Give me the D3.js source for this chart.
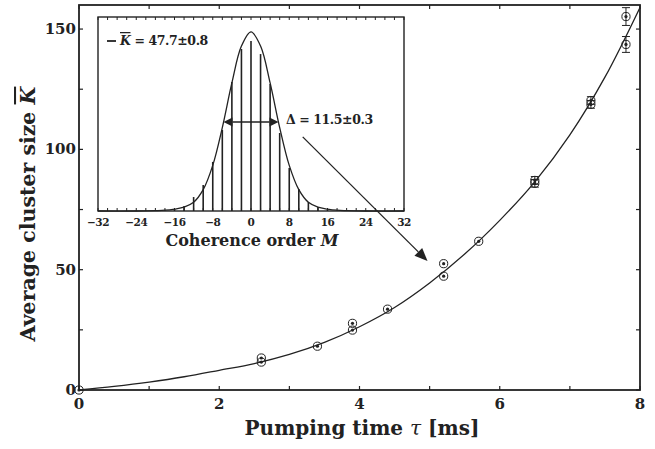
<!DOCTYPE html>
<html>
<head>
<meta charset="utf-8">
<script src="https://cdn.jsdelivr.net/npm/d3@7"></script>
<style>
  html, body { margin: 0; padding: 0; background: #fff; }
  svg { display: block; }
  text { font-family: "DejaVu Serif", "Liberation Serif", serif; font-weight: bold; fill: #222; }
</style>
</head>
<body>
<svg id="chart" width="655" height="449"></svg>
<script>
// Measured cluster sizes: pumping time (ms), average cluster size, error
const tauValues = [0, 2.6, 2.6, 3.4, 3.9, 3.9, 4.4, 5.2, 5.2, 5.7, 6.5, 6.5, 7.3, 7.3, 7.8, 7.8];
const kValues   = [0, 13.3, 11.6, 18.2, 27.7, 24.9, 33.6, 52.5, 47.3, 61.8, 87.1, 85.9, 120.3, 118.7, 155.2, 143.6];
const kErrors   = [0, 0, 0, 0, 0, 0, 0, 0, 0, 0, 1.6, 1.6, 1.6, 1.6, 3.7, 3.3];

// Fitted growth curve, sampled along the drawn line
const fitTau = [0, 0.5, 1, 1.5, 2, 2.5, 3, 3.5, 4, 4.5, 5, 5.5, 6, 6.5, 7, 7.5, 8];
const fitK   = [0, 1.5, 3.3, 5.5, 8.2, 11.0, 14.8, 19.8, 26.3, 34.3, 44.5, 56.5, 70.5, 86.5, 106, 130, 159];

// Inset: multiple-quantum coherence spectrum (normalised intensity)
const coherenceOrders = [-16, -14, -12, -10, -8, -6, -4, -2, 0, 2, 4, 6, 8, 10, 12, 14, 16];
const intensities     = [0.01, 0.026, 0.072, 0.134, 0.253, 0.418, 0.665, 0.835, 0.876, 0.809, 0.655, 0.402, 0.222, 0.113, 0.046, 0.02, 0.006];

// Gaussian envelope, sampled along the drawn line
const envM = [-32, -24, -20, -18, -16, -14, -12, -10, -8, -6, -4, -2, 0, 2, 4, 6, 8, 10, 12, 14, 16, 18, 20, 24, 32];
const envI = [0, 0, 0.002, 0.004, 0.01, 0.02, 0.045, 0.11, 0.235, 0.43, 0.66, 0.85, 0.923, 0.85, 0.66, 0.43, 0.235, 0.11, 0.045, 0.02, 0.01, 0.004, 0.002, 0, 0];

const kBarLabel = "47.7±0.8";
const deltaValue = 11.5;
const deltaLabel = "11.5±0.3";

const xTickValues = [0, 2, 4, 6, 8];
const yTickValues = [0, 50, 100, 150];
const insetTickValues = [-32, -24, -16, -8, 0, 8, 16, 24, 32];

const ink = "#222";
const svg = d3.select("#chart");

// ---------- main plot ----------
const x = d3.scaleLinear().domain([0, 8]).range([79, 640]);
const y = d3.scaleLinear().domain([0, 160]).range([390, 5]);

const tickLen = 4;
const g = svg.append("g");

// inward ticks on all four sides
const xTicksAll = d3.range(0, 8.01, 1);
const yTicksAll = d3.range(0, 160.01, 25);
g.selectAll(".xtb").data(xTicksAll).join("line")
  .attr("x1", d => x(d)).attr("x2", d => x(d))
  .attr("y1", y(0)).attr("y2", y(0) - tickLen)
  .attr("stroke", ink).attr("stroke-width", 1.2);
g.selectAll(".xtt").data(xTicksAll).join("line")
  .attr("x1", d => x(d)).attr("x2", d => x(d))
  .attr("y1", y(160)).attr("y2", y(160) + tickLen)
  .attr("stroke", ink).attr("stroke-width", 1.2);
g.selectAll(".ytl").data(yTicksAll).join("line")
  .attr("x1", x(0)).attr("x2", x(0) + tickLen)
  .attr("y1", d => y(d)).attr("y2", d => y(d))
  .attr("stroke", ink).attr("stroke-width", 1.2);
g.selectAll(".ytr").data(yTicksAll).join("line")
  .attr("x1", x(8)).attr("x2", x(8) - tickLen)
  .attr("y1", d => y(d)).attr("y2", d => y(d))
  .attr("stroke", ink).attr("stroke-width", 1.2);

// frame
g.append("rect")
  .attr("x", x(0)).attr("y", y(160))
  .attr("width", x(8) - x(0)).attr("height", y(0) - y(160))
  .attr("fill", "none").attr("stroke", ink).attr("stroke-width", 1.8);

// tick labels
g.selectAll(".xl").data(xTickValues).join("text")
  .attr("x", d => x(d)).attr("y", y(0) + 19)
  .attr("text-anchor", "middle").attr("font-size", 15)
  .text(d => d);
g.selectAll(".yl").data(yTickValues).join("text")
  .attr("x", x(0) - 3).attr("y", d => y(d) + 5)
  .attr("text-anchor", "end").attr("font-size", 15)
  .text(d => d);

// axis titles
const xt = g.append("text")
  .attr("x", 362).attr("y", 435)
  .attr("text-anchor", "middle").attr("font-size", 20);
xt.append("tspan").text("Pumping time ");
xt.append("tspan").attr("font-style", "italic").attr("font-weight", "normal").text("τ");
xt.append("tspan").text(" [ms]");

const yt = g.append("text")
  .attr("transform", "translate(35,214) rotate(-90)")
  .attr("text-anchor", "middle").attr("font-size", 20.5);
yt.append("tspan").text("Average cluster size ");
yt.append("tspan").attr("font-style", "italic").attr("text-decoration", "overline").text("K");

// fit curve
const fitLine = d3.line()
  .x((d, i) => x(fitTau[i])).y(d => y(d))
  .curve(d3.curveCatmullRom.alpha(0.5));
g.append("path").attr("d", fitLine(fitK))
  .attr("fill", "none").attr("stroke", ink).attr("stroke-width", 1.3);

// data points with error bars
const pts = tauValues.map((t, i) => ({ t, k: kValues[i], e: kErrors[i] }));
const eb = g.selectAll(".eb").data(pts.filter(d => d.e > 0)).join("g");
eb.append("line")
  .attr("x1", d => x(d.t)).attr("x2", d => x(d.t))
  .attr("y1", d => y(d.k - d.e)).attr("y2", d => y(d.k + d.e))
  .attr("stroke", ink).attr("stroke-width", 1);
eb.append("line")
  .attr("x1", d => x(d.t) - 4).attr("x2", d => x(d.t) + 4)
  .attr("y1", d => y(d.k - d.e)).attr("y2", d => y(d.k - d.e))
  .attr("stroke", ink).attr("stroke-width", 1);
eb.append("line")
  .attr("x1", d => x(d.t) - 4).attr("x2", d => x(d.t) + 4)
  .attr("y1", d => y(d.k + d.e)).attr("y2", d => y(d.k + d.e))
  .attr("stroke", ink).attr("stroke-width", 1);

g.selectAll(".pc").data(pts).join("circle")
  .attr("cx", d => x(d.t)).attr("cy", d => y(d.k)).attr("r", 4.1)
  .attr("fill", "none").attr("stroke", ink).attr("stroke-width", 1);
g.selectAll(".pd").data(pts).join("circle")
  .attr("cx", d => x(d.t)).attr("cy", d => y(d.k)).attr("r", 1.6)
  .attr("fill", ink);

// ---------- inset ----------
const ix = d3.scaleLinear().domain([-32, 32]).range([98, 404]);
const iy = d3.scaleLinear().domain([0, 1]).range([211, 17]);
const ig = svg.append("g");

ig.append("rect")
  .attr("x", ix(-32)).attr("y", iy(1))
  .attr("width", ix(32) - ix(-32)).attr("height", iy(0) - iy(1))
  .attr("fill", "#fff");

const minorM = d3.range(-32, 32.01, 2);
ig.selectAll(".itb").data(minorM).join("line")
  .attr("x1", d => ix(d)).attr("x2", d => ix(d))
  .attr("y1", iy(0)).attr("y2", iy(0) - 3)
  .attr("stroke", ink).attr("stroke-width", 1);
ig.selectAll(".itt").data(minorM).join("line")
  .attr("x1", d => ix(d)).attr("x2", d => ix(d))
  .attr("y1", iy(1)).attr("y2", iy(1) + 3)
  .attr("stroke", ink).attr("stroke-width", 1);

// spectrum bars
ig.selectAll(".bar").data(coherenceOrders).join("line")
  .attr("x1", d => ix(d)).attr("x2", d => ix(d))
  .attr("y1", iy(0)).attr("y2", (d, i) => iy(intensities[i]))
  .attr("stroke", ink).attr("stroke-width", 1.6);

// Gaussian envelope
const envLine = d3.line()
  .x((d, i) => ix(envM[i])).y(d => iy(d))
  .curve(d3.curveCatmullRom.alpha(0.5));
ig.append("path").attr("d", envLine(envI))
  .attr("fill", "none").attr("stroke", ink).attr("stroke-width", 1.3);

// inset frame
ig.append("rect")
  .attr("x", ix(-32)).attr("y", iy(1))
  .attr("width", ix(32) - ix(-32)).attr("height", iy(0) - iy(1))
  .attr("fill", "none").attr("stroke", ink).attr("stroke-width", 1.4);

ig.selectAll(".il").data(insetTickValues).join("text")
  .attr("x", d => ix(d)).attr("y", iy(0) + 15)
  .attr("text-anchor", "middle").attr("font-size", 10.5)
  .attr("letter-spacing", -0.5)
  .text(d => d < 0 ? "−" + Math.abs(d) : d);

const it = ig.append("text")
  .attr("x", 252).attr("y", 246)
  .attr("text-anchor", "middle").attr("font-size", 16);
it.append("tspan").text("Coherence order ");
it.append("tspan").attr("font-style", "italic").text("M");

// legend entry for the fitted envelope
ig.append("line")
  .attr("x1", 107).attr("x2", 116).attr("y1", 41).attr("y2", 41)
  .attr("stroke", ink).attr("stroke-width", 1.8);
const lt = ig.append("text").attr("x", 120).attr("y", 45)
  .attr("font-size", 12.5).attr("letter-spacing", -0.4);
lt.append("tspan").attr("font-style", "italic").attr("text-decoration", "overline").text("K");
lt.append("tspan").text(" = " + kBarLabel);

// width marker (double arrow spanning Δ)
const arrowY = 122;
const ah = 9, aw = 4.5;
ig.append("line")
  .attr("x1", ix(-deltaValue / 2) + ah).attr("x2", ix(deltaValue / 2) - ah)
  .attr("y1", arrowY).attr("y2", arrowY)
  .attr("stroke", ink).attr("stroke-width", 1.4);
ig.append("path")
  .attr("d", `M${ix(-deltaValue / 2)},${arrowY} l${ah},${-aw} l0,${2 * aw} Z`)
  .attr("fill", ink);
ig.append("path")
  .attr("d", `M${ix(deltaValue / 2)},${arrowY} l${-ah},${-aw} l0,${2 * aw} Z`)
  .attr("fill", ink);

ig.append("text").attr("x", 286).attr("y", 124)
  .attr("font-size", 12.5).attr("letter-spacing", -0.4)
  .text("Δ = " + deltaLabel);

// pointer from the inset to the K = 47.7 measurement
const p0 = [x(3.19), y(105.2)];
const p1 = [x(4.97), y(53.6)];
const ang = Math.atan2(p1[1] - p0[1], p1[0] - p0[0]);
const hl = 13, hw = 5.5;
const base = [p1[0] - hl * Math.cos(ang), p1[1] - hl * Math.sin(ang)];
svg.append("line")
  .attr("x1", p0[0]).attr("y1", p0[1]).attr("x2", base[0]).attr("y2", base[1])
  .attr("stroke", ink).attr("stroke-width", 1.3);
svg.append("path")
  .attr("d", `M${p1[0]},${p1[1]}
    L${base[0] + hw * Math.sin(ang)},${base[1] - hw * Math.cos(ang)}
    L${base[0] - hw * Math.sin(ang)},${base[1] + hw * Math.cos(ang)} Z`)
  .attr("fill", ink);
</script>
</body>
</html>
